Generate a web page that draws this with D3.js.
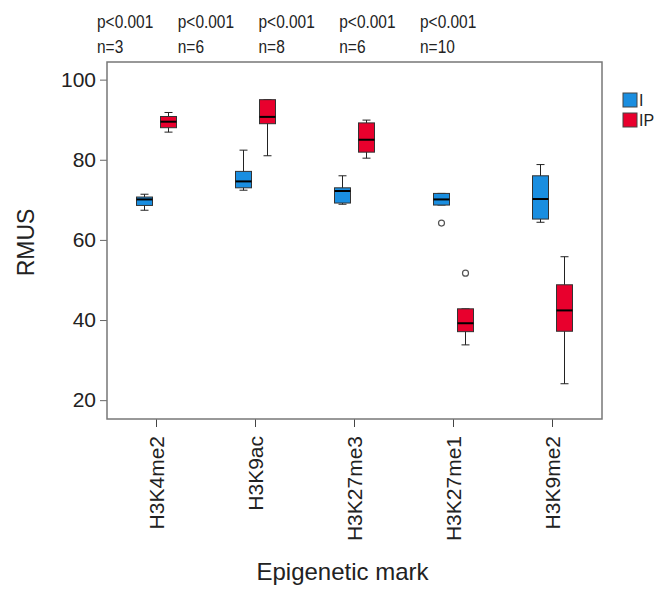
<!DOCTYPE html>
<html>
<head>
<meta charset="utf-8">
<script src="https://cdn.jsdelivr.net/npm/d3@7"></script>
<style>
  body { margin: 0; background: #fff; }
  text { font-family: "Liberation Sans", Arial, sans-serif; fill: #222; }
</style>
</head>
<body>
<div class="chart"></div>
<script>
// chart data
const categories = ["H3K4me2", "H3K9ac", "H3K27me3", "H3K27me1", "H3K9me2"];
const groups = ["I", "IP"];
const pLabels = ["p<0.001", "p<0.001", "p<0.001", "p<0.001", "p<0.001"];
const nCounts = [3, 6, 8, 6, 10];
const yTicks = [20, 40, 60, 80, 100];

// group I: min, q1, median, q3, max per category
const iMin = [67.4, 72.4, 68.9, 68.7, 64.4];
const iQ1  = [68.6, 73.0, 69.2, 68.7, 65.2];
const iMed = [70.1, 74.6, 72.2, 70.1, 70.2];
const iQ3  = [70.7, 77.1, 73.0, 71.6, 76.0];
const iMax = [71.4, 82.4, 76.0, 71.6, 78.8];

// group IP
const ipMin = [86.9, 81.0, 80.4, 33.8, 24.1];
const ipQ1  = [88.0, 89.0, 81.9, 37.1, 37.2];
const ipMed = [89.5, 90.7, 85.0, 39.2, 42.4];
const ipQ3  = [90.8, 95.0, 89.2, 42.8, 48.8];
const ipMax = [91.8, 95.0, 89.9, 42.8, 55.8];

// outliers: [category, group, value]
const outliers = [["H3K27me1", "I", 64.2], ["H3K27me1", "IP", 51.7]];

const colors = {I: "#1a8ee0", IP: "#e8002d"};

const boxes = [];
categories.forEach((c, i) => {
  boxes.push({cat: c, grp: "I", min: iMin[i], q1: iQ1[i], med: iMed[i], q3: iQ3[i], max: iMax[i]});
  boxes.push({cat: c, grp: "IP", min: ipMin[i], q1: ipQ1[i], med: ipMed[i], q3: ipQ3[i], max: ipMax[i]});
});

const W = 668, H = 589;
const margin = {top: 62, right: 66, bottom: 170, left: 107};
const width = W - margin.left - margin.right,
      height = H - margin.top - margin.bottom;

const svg = d3.select(".chart")
  .append("svg")
    .attr("width", W)
    .attr("height", H);

const g = svg.append("g")
    .attr("transform", `translate(${margin.left}, ${margin.top})`);

// scales
const x = d3.scaleBand()
  .domain(categories)
  .range([0, width])
  .padding(0);

const xg = d3.scaleBand()
  .domain(groups)
  .range([x.bandwidth() / 2 - 24, x.bandwidth() / 2 + 24])
  .paddingInner(1 / 3)
  .paddingOuter(1 / 6);

const y = d3.scaleLinear()
  .domain([15.3, 104.4])
  .range([height, 0]);

// Y axis
const yAxis = g.append("g")
  .call(d3.axisLeft(y).tickValues(yTicks).tickSize(7).tickPadding(4));
yAxis.select(".domain").remove();
yAxis.selectAll("line").attr("stroke", "#666");
yAxis.selectAll("text")
  .style("font-size", "21px")
  .style("fill", "#222");

// X axis
const xAxis = g.append("g")
  .attr("transform", `translate(0, ${height})`)
  .call(d3.axisBottom(x).tickSize(8));
xAxis.select(".domain").remove();
xAxis.selectAll("line").attr("stroke", "#444");
xAxis.selectAll("text")
  .attr("transform", "rotate(-90)")
  .attr("x", -17)
  .attr("y", 0)
  .attr("dy", "0.35em")
  .style("text-anchor", "end")
  .style("font-size", "21px")
  .style("fill", "#222");

// frame
g.append("rect")
  .attr("width", width)
  .attr("height", height)
  .attr("fill", "none")
  .attr("stroke", "#777")
  .attr("stroke-width", 1.5);

// boxes
const bw = xg.bandwidth();
const box = g.selectAll(".box")
  .data(boxes)
  .join("g")
    .attr("class", "box")
    .attr("transform", d => `translate(${x(d.cat) + xg(d.grp)}, 0)`);

box.append("line")
  .attr("x1", bw / 2).attr("x2", bw / 2)
  .attr("y1", d => y(d.max)).attr("y2", d => y(d.min))
  .attr("stroke", "#222");

box.append("line")
  .attr("x1", bw / 2 - 4).attr("x2", bw / 2 + 4)
  .attr("y1", d => y(d.max)).attr("y2", d => y(d.max))
  .attr("stroke", "#222");
box.append("line")
  .attr("x1", bw / 2 - 4).attr("x2", bw / 2 + 4)
  .attr("y1", d => y(d.min)).attr("y2", d => y(d.min))
  .attr("stroke", "#222");

box.append("rect")
  .attr("x", 0)
  .attr("width", bw)
  .attr("y", d => y(d.q3))
  .attr("height", d => y(d.q1) - y(d.q3))
  .attr("fill", d => colors[d.grp])
  .attr("stroke", "#333");

box.append("line")
  .attr("x1", 0).attr("x2", bw)
  .attr("y1", d => y(d.med)).attr("y2", d => y(d.med))
  .attr("stroke", "#000")
  .attr("stroke-width", 2);

// outliers
g.selectAll(".outlier")
  .data(outliers)
  .join("circle")
    .attr("cx", d => x(d[0]) + xg(d[1]) + bw / 2)
    .attr("cy", d => y(d[2]))
    .attr("r", 3)
    .attr("fill", "#fff")
    .attr("stroke", "#555")
    .attr("stroke-width", 1.2);

// annotations above the plot (text is a bit condensed in the original)
const ax = d3.scalePoint()
  .domain(categories)
  .range([97, 420]);

svg.selectAll(".pval")
  .data(categories)
  .join("text")
    .attr("transform", d => `translate(${ax(d)}, 28) scale(0.86, 1)`)
    .style("font-size", "18px")
    .text((d, i) => pLabels[i]);

svg.selectAll(".nval")
  .data(categories)
  .join("text")
    .attr("transform", d => `translate(${ax(d)}, 53) scale(0.86, 1)`)
    .style("font-size", "18px")
    .text((d, i) => "n=" + nCounts[i]);

// axis titles
svg.append("text")
  .attr("transform", `translate(34, ${margin.top + height / 2 + 2}) rotate(-90)`)
  .style("text-anchor", "middle")
  .style("font-size", "23px")
  .text("RMUS");

svg.append("text")
  .attr("x", margin.left + width / 2 - 12)
  .attr("y", 580)
  .style("text-anchor", "middle")
  .style("font-size", "24px")
  .text("Epigenetic mark");

// legend
const legend = svg.append("g")
  .attr("transform", "translate(623, 93)");
legend.selectAll("rect")
  .data(groups)
  .join("rect")
    .attr("y", (d, i) => i * 20)
    .attr("width", 14)
    .attr("height", 14)
    .attr("fill", d => colors[d])
    .attr("stroke", "#444");
legend.selectAll("text")
  .data(groups)
  .join("text")
    .attr("x", 16)
    .attr("y", (d, i) => i * 20 + 13)
    .style("font-size", "16px")
    .text(d => d);
</script>
</body>
</html>
